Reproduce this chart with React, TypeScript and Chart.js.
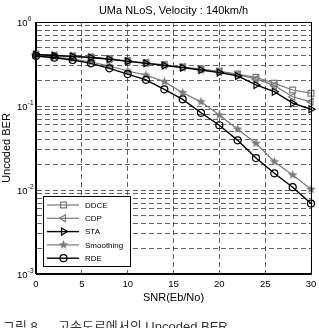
import React, { useEffect, useRef } from "react";
import { Chart, registerables } from "chart.js";

Chart.register(...registerables);

// SNR sweep (dB)
const snr = [0, 2, 4, 6, 8, 10, 12, 14, 16, 18, 20, 22, 24, 26, 28, 30];

// Uncoded BER per estimator
const ddce = [0.41, 0.4, 0.39, 0.38, 0.365, 0.345, 0.327, 0.309, 0.291, 0.275, 0.259, 0.24, 0.22, 0.186, 0.155, 0.142];
const cdp = [0.41, 0.4, 0.39, 0.38, 0.363, 0.343, 0.325, 0.307, 0.289, 0.272, 0.256, 0.236, 0.21, 0.175, 0.129, 0.112];
const sta = [0.41, 0.4, 0.39, 0.378, 0.36, 0.34, 0.322, 0.304, 0.286, 0.268, 0.25, 0.228, 0.178, 0.148, 0.108, 0.0914];
const smoothing = [0.399, 0.383, 0.363, 0.334, 0.299, 0.261, 0.233, 0.195, 0.144, 0.112, 0.078, 0.053, 0.036, 0.0217, 0.0151, 0.0102];
const rde = [0.394, 0.376, 0.353, 0.322, 0.281, 0.24, 0.205, 0.158, 0.12, 0.083, 0.059, 0.039, 0.024, 0.0158, 0.0108, 0.0069];

const seriesNames = ["DDCE", "CDP", "STA", "Smoothing", "RDE"];
const xTicks = [0, 5, 10, 15, 20, 25, 30];
const decades = [-3, -2, -1, 0];

const titleText = "UMa NLoS, Velocity : 140km/h";
const xTitle = "SNR(Eb/No)";
const yTitle = "Uncoded BER";
const captionNo = "그림 8";
const captionText = "고속도로에서의 Uncoded BER";

const GRAY = "#7a7a7a";
const BLACK = "#000000";
const FONT = "'Liberation Sans', Arial, sans-serif";

function makeStar(color: string): HTMLCanvasElement {
  const c = document.createElement("canvas");
  c.width = 11;
  c.height = 11;
  const g = c.getContext("2d")!;
  const cx = 5.5, cy = 5.5, ro = 5, ri = 2.1;
  g.beginPath();
  for (let i = 0; i < 10; i++) {
    const r = i % 2 === 0 ? ro : ri;
    const a = -Math.PI / 2 + (i * Math.PI) / 5;
    const px = cx + r * Math.cos(a);
    const py = cy + r * Math.sin(a);
    if (i === 0) g.moveTo(px, py);
    else g.lineTo(px, py);
  }
  g.closePath();
  g.fillStyle = color;
  g.fill();
  return c;
}

type Marker = "rect" | "triLeft" | "triRight" | "star" | "circle";

function drawMarker(ctx: CanvasRenderingContext2D, kind: Marker, x: number, y: number, color: string, star: HTMLCanvasElement) {
  ctx.save();
  ctx.strokeStyle = color;
  ctx.lineWidth = 1.2;
  ctx.beginPath();
  if (kind === "rect") {
    ctx.rect(x - 2.9, y - 2.9, 5.8, 5.8);
    ctx.stroke();
  } else if (kind === "triLeft" || kind === "triRight") {
    const d = kind === "triLeft" ? -1 : 1;
    ctx.moveTo(x + d * 4, y);
    ctx.lineTo(x - d * 2, y - 3.5);
    ctx.lineTo(x - d * 2, y + 3.5);
    ctx.closePath();
    ctx.stroke();
  } else if (kind === "circle") {
    ctx.arc(x, y, 3.5, 0, Math.PI * 2);
    ctx.stroke();
  } else {
    ctx.drawImage(star, x - star.width / 2, y - star.height / 2);
  }
  ctx.restore();
}

export default function App() {
  const ref = useRef<HTMLCanvasElement | null>(null);

  useEffect(() => {
    const canvas = ref.current;
    if (!canvas) return;
    const star = makeStar(GRAY);
    const colors = [GRAY, GRAY, BLACK, GRAY, BLACK];
    const markers: Marker[] = ["rect", "triLeft", "triRight", "star", "circle"];
    const values = [ddce, cdp, sta, smoothing, rde];

    const datasets = values.map((v, i) => {
      const kind = markers[i];
      let pointStyle: any = "circle";
      let rotation = 0;
      let radius = 3.5;
      if (kind === "rect") { pointStyle = "rect"; radius = 4.1; }
      if (kind === "triLeft") { pointStyle = "triangle"; rotation = -90; radius = 4; }
      if (kind === "triRight") { pointStyle = "triangle"; rotation = 90; radius = 4; }
      if (kind === "star") { pointStyle = star; }
      return {
        label: seriesNames[i],
        data: snr.map((x, k) => ({ x, y: v[k] })),
        borderColor: colors[i],
        backgroundColor: "rgba(0,0,0,0)",
        pointBorderColor: colors[i],
        pointBackgroundColor: "rgba(0,0,0,0)",
        borderWidth: i === 2 || i === 4 ? 1.4 : 1.2,
        pointBorderWidth: 1.2,
        pointStyle,
        pointRotation: rotation,
        pointRadius: radius,
        tension: 0,
        clip: false as any,
        order: i === 2 || i === 4 ? 0 : 1,
      };
    });

    const annotate = {
      id: "figureText",
      afterDraw(chart: any) {
        const ctx: CanvasRenderingContext2D = chart.ctx;
        const area = chart.chartArea;
        const xs = chart.scales.x;
        const ys = chart.scales.y;
        ctx.save();

        // frame
        ctx.strokeStyle = BLACK;
        ctx.lineWidth = 1;
        ctx.strokeRect(Math.round(area.left) - 0.5, Math.round(area.top) + 0.5, Math.round(area.right - area.left) + 1, Math.round(area.bottom - area.top) - 1);

        // x tick labels
        ctx.fillStyle = BLACK;
        ctx.font = `9.5px ${FONT}`;
        ctx.textAlign = "center";
        ctx.textBaseline = "alphabetic";
        xTicks.forEach((t) => {
          ctx.fillText(String(t), xs.getPixelForValue(t), area.bottom + 13);
        });

        // y tick labels as powers of ten
        decades.forEach((d) => {
          const py = ys.getPixelForValue(Math.pow(10, d));
          ctx.font = `9.5px ${FONT}`;
          ctx.textAlign = "right";
          ctx.textBaseline = "middle";
          ctx.fillText("10", 27.5, py + 1.5);
          ctx.font = `6.5px ${FONT}`;
          ctx.textAlign = "left";
          ctx.fillText(d === 0 ? "0" : String(d), 27.8, py - 3);
        });

        // titles
        ctx.font = `11px ${FONT}`;
        ctx.textAlign = "center";
        ctx.textBaseline = "alphabetic";
        ctx.fillText(titleText, (area.left + area.right) / 2, 14);
        ctx.fillText(xTitle, (area.left + area.right) / 2, area.bottom + 27);
        ctx.save();
        ctx.translate(10, (area.top + area.bottom) / 2);
        ctx.rotate(-Math.PI / 2);
        ctx.fillText(yTitle, 0, 0);
        ctx.restore();

        // legend
        const lx = 43, ly = 196, lw = 87, lh = 70;
        ctx.fillStyle = "#ffffff";
        ctx.fillRect(lx, ly, lw, lh);
        ctx.strokeStyle = BLACK;
        ctx.lineWidth = 1;
        ctx.strokeRect(lx + 0.5, ly + 0.5, lw, lh);
        seriesNames.forEach((name, i) => {
          const ey = ly + 9 + i * 13.3;
          ctx.strokeStyle = colors[i];
          ctx.lineWidth = i === 2 || i === 4 ? 1.4 : 1.2;
          ctx.beginPath();
          ctx.moveTo(lx + 4, ey);
          ctx.lineTo(lx + 36, ey);
          ctx.stroke();
          drawMarker(ctx, markers[i], lx + 20.5, ey, colors[i], star);
          ctx.fillStyle = BLACK;
          ctx.font = `8px ${FONT}`;
          ctx.textAlign = "left";
          ctx.textBaseline = "middle";
          ctx.fillText(name, lx + 42, ey + 0.5);
        });

        // figure caption
        ctx.fillStyle = "#333333";
        ctx.font = `13px ${FONT}, 'Noto Sans CJK KR'`;
        ctx.textAlign = "left";
        ctx.textBaseline = "alphabetic";
        ctx.fillText(captionNo, 3, 331);
        ctx.fillText(captionText, 58, 331);

        ctx.restore();
      },
    };

    const chart = new Chart(canvas, {
      type: "line",
      data: { datasets: datasets as any },
      options: {
        responsive: false,
        animation: false,
        maintainAspectRatio: false,
        layout: { padding: { left: 36, right: 8, top: 22, bottom: 54 } },
        plugins: { legend: { display: false }, tooltip: { enabled: false }, title: { display: false } },
        scales: {
          x: {
            type: "linear",
            min: 0,
            max: 30,
            afterBuildTicks: (s: any) => {
              s.ticks = xTicks.map((v) => ({ value: v }));
            },
            afterFit: (s: any) => {
              s.height = 0;
            },
            ticks: { display: false },
            grid: { color: "#3a3a3a", lineWidth: 0.8, drawTicks: false },
            border: { display: true, color: BLACK, dash: [5, 3] },
          },
          y: {
            type: "logarithmic",
            min: 0.001,
            max: 1,
            afterBuildTicks: (s: any) => {
              const t: { value: number }[] = [];
              decades.forEach((d) => {
                if (d === 0) {
                  t.push({ value: 1 });
                  return;
                }
                for (let m = 1; m <= 9; m++) t.push({ value: m * Math.pow(10, d) });
              });
              s.ticks = t;
            },
            afterFit: (s: any) => {
              s.width = 0;
            },
            ticks: { display: false },
            grid: { color: "#3a3a3a", lineWidth: 0.8, drawTicks: false },
            border: { display: true, color: BLACK, dash: [5, 3] },
          },
        },
      },
      plugins: [annotate],
    });

    return () => chart.destroy();
  }, []);

  return (
    <div style={{ position: "absolute", left: 0, top: 0, width: 319, height: 328, background: "#fff" }}>
      <canvas ref={ref} width={319} height={328} style={{ width: 319, height: 328, display: "block" }} />
    </div>
  );
}
